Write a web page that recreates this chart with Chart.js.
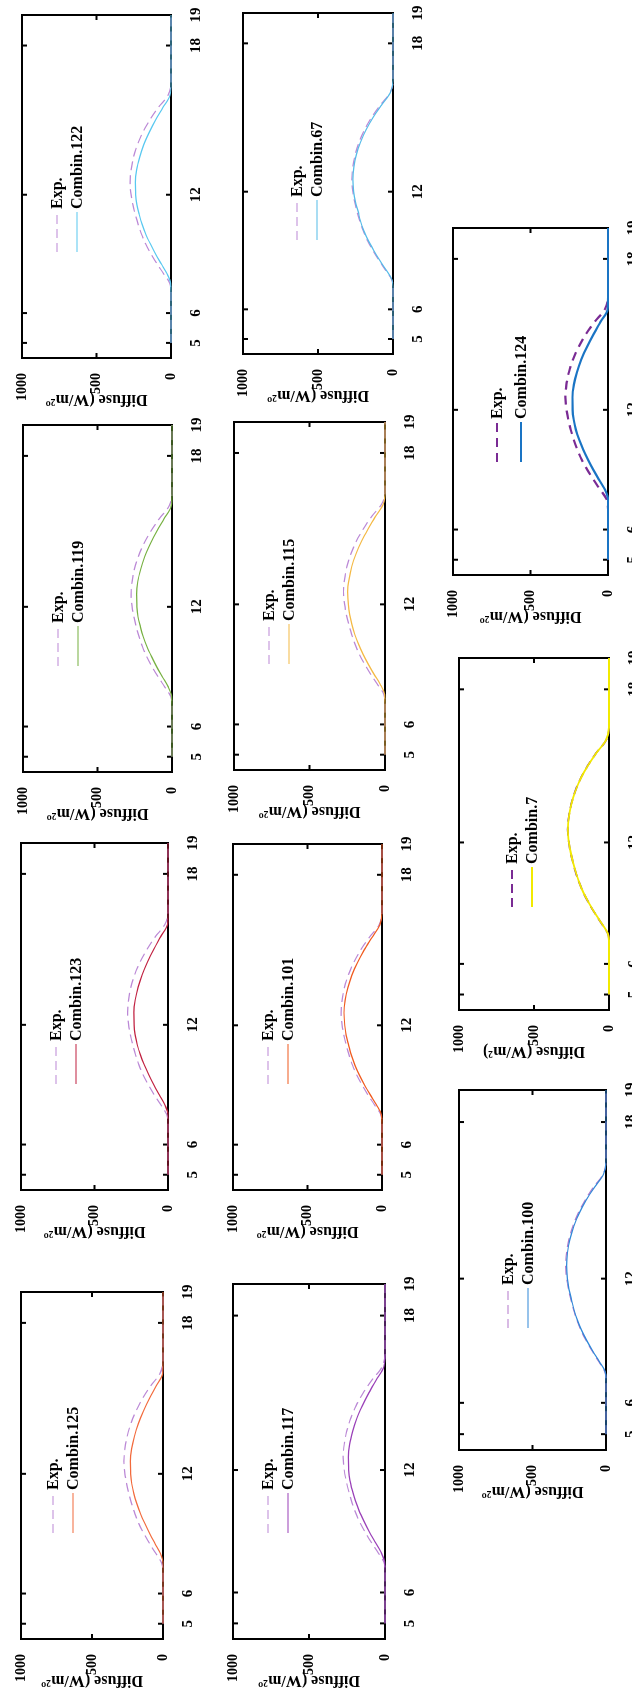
<!DOCTYPE html>
<html>
<head>
<meta charset="utf-8">
<script src="https://cdn.jsdelivr.net/npm/chart.js@4.4.1/dist/chart.umd.min.js"></script>
<style>
html, body { margin: 0; padding: 0; background: #fff; }
body { width: 632px; height: 1696px; overflow: hidden; position: relative; }
/* the figure is laid out landscape and turned a quarter counter-clockwise */
#page { position: absolute; left: 0; top: 0; width: 1696px; height: 632px;
        transform-origin: 0 0; transform: translateY(1696px) rotate(-90deg); }
#page canvas { position: absolute; }
</style>
</head>
<body>
<div id="page"></div>
<script>
// hours of the day (x) and the tick labels of the time axis
const hours = [5, 6, 7, 7.5, 8, 8.5, 9, 9.5, 10, 10.5, 11, 11.5, 12, 12.5, 13, 13.5, 14, 14.5, 15, 15.5, 16, 16.5, 17, 18, 19];
const tickHours = [5, 6, 12, 18, 19];
const tickPos = [4.4, 13.1, 47.6, 91.1, 100];   // where those labels sit on the axis (0..100)
const yTicks = [0, 500, 1000];

// diffuse irradiance, W/m2
const expValues  = [0, 0, 0, 8, 50, 94, 134, 170, 198, 221, 240, 256, 268, 275, 268, 252, 226, 190, 143, 86, 20, 0, 0, 0, 0];
const combin122  = [0, 0, 0, 2, 27, 66, 104, 138, 169, 194, 213, 229, 237, 239, 231, 211, 184, 147, 104, 55, 7, 0, 0, 0, 0];
const combin119  = [0, 0, 0, 2, 26, 65, 103, 137, 168, 193, 212, 228, 236, 238, 230, 210, 183, 146, 103, 54, 6, 0, 0, 0, 0];
const combin123  = [0, 0, 0, 0, 22, 60, 97, 131, 162, 188, 209, 224, 231, 232, 223, 203, 175, 139, 97, 50, 3, 0, 0, 0, 0];
const combin125  = [0, 0, 0, 0, 18, 56, 93, 127, 158, 184, 205, 220, 228, 230, 221, 201, 173, 137, 95, 47, 2, 0, 0, 0, 0];
const combin67   = [0, 0, 0, 7, 45, 89, 128, 164, 194, 217, 233, 251, 262, 268, 261, 244, 217, 180, 133, 77, 18, 0, 0, 0, 0];
const combin115  = [0, 0, 0, 3, 31, 72, 110, 145, 175, 200, 219, 234, 243, 247, 238, 220, 192, 156, 111, 61, 10, 0, 0, 0, 0];
const combin101  = [0, 0, 0, 4, 37, 78, 117, 152, 182, 206, 224, 241, 250, 255, 247, 229, 202, 165, 120, 67, 14, 0, 0, 0, 0];
const combin117  = [0, 0, 0, 3, 28, 67, 105, 139, 170, 195, 215, 231, 239, 241, 233, 213, 186, 149, 106, 57, 8, 0, 0, 0, 0];
const combin124  = [0, 0, 0, 0, 20, 58, 95, 129, 160, 186, 207, 221, 228, 229, 220, 200, 172, 136, 94, 48, 2, 0, 0, 0, 0];
const combin7    = [0, 0, 0, 8, 49, 93, 133, 169, 197, 220, 239, 255, 267, 274, 268, 251, 225, 189, 142, 85, 21, 0, 0, 0, 0];
const combin100  = [0, 0, 0, 6, 46, 90, 130, 166, 195, 218, 235, 252, 263, 268, 262, 246, 219, 183, 136, 79, 17, 0, 0, 0, 0];

const TITLE = 'Diffuse (W/m\u00b2\u00ba';
const SERIF = "'Liberation Serif', 'Times New Roman', serif";
const LIGHT = '#bb88d6';
const DARK = '#7a2b94';

// box = [left, top, width, height] of the plot frame in the landscape layout
const panels = [
  { name: 'Combin.122', values: combin122, color: '#58c8f0', exp: LIGHT, box: [1338, 22, 343, 149] },
  { name: 'Combin.119', values: combin119, color: '#76b041', exp: LIGHT, box: [924, 23, 347, 149] },
  { name: 'Combin.123', values: combin123, color: '#c02040', exp: LIGHT, box: [506, 21, 347, 147] },
  { name: 'Combin.125', values: combin125, color: '#f26a3c', exp: LIGHT, box: [57, 21, 347, 142], rows: [32, 52] },
  { name: 'Combin.67',  values: combin67,  color: '#55bbe8', exp: LIGHT, box: [1342, 243, 341, 150], rows: [54, 74], lx: 114 },
  { name: 'Combin.115', values: combin115, color: '#f4b944', exp: LIGHT, box: [926, 234, 348, 151] },
  { name: 'Combin.101', values: combin101, color: '#f05a1e', exp: LIGHT, box: [506, 233, 346, 149] },
  { name: 'Combin.117', values: combin117, color: '#9a40b8', exp: LIGHT, box: [57, 233, 355, 152] },
  { name: 'Combin.124', values: combin124, color: '#1a74c4', exp: DARK, box: [1121, 453, 347, 155], rows: [44, 68], lx: 113, lw: 2.2, dash: [9, 6] },
  { name: 'Combin.7',   values: combin7,   color: '#f2ea00', exp: DARK, box: [686, 459, 352, 150], rows: [53, 73], lx: 103, lw: 1.8, title: 'Diffuse (W/m\u00b2)' },
  { name: 'Combin.100', values: combin100, color: '#3088d8', exp: '#b478cc', box: [246, 459, 360, 147], rows: [49, 69], lx: 122 }
];

function hourToPos(h) {
  for (let i = 1; i < tickHours.length; i++) {
    if (h <= tickHours[i]) {
      const t = (h - tickHours[i - 1]) / (tickHours[i] - tickHours[i - 1]);
      return tickPos[i - 1] + t * (tickPos[i] - tickPos[i - 1]);
    }
  }
  return tickPos[tickPos.length - 1];
}

function toPoints(values) {
  return hours.map((h, i) => ({ x: hourToPos(h), y: values[i] }));
}

// black frame with short inward ticks on all four sides
const frame = {
  id: 'frame',
  beforeDatasetsDraw(chart) {
    const { ctx, chartArea: a, scales: { x, y } } = chart;
    ctx.save();
    ctx.strokeStyle = '#000';
    ctx.lineWidth = 2;
    ctx.strokeRect(a.left, a.top, a.right - a.left, a.bottom - a.top);
    ctx.beginPath();
    tickPos.forEach(v => {
      if (v <= 0 || v >= 100) return;
      const px = x.getPixelForValue(v);
      ctx.moveTo(px, a.bottom); ctx.lineTo(px, a.bottom - 5);
      ctx.moveTo(px, a.top); ctx.lineTo(px, a.top + 5);
    });
    yTicks.forEach(v => {
      if (v <= 0 || v >= 1000) return;
      const py = y.getPixelForValue(v);
      ctx.moveTo(a.left, py); ctx.lineTo(a.left + 5, py);
      ctx.moveTo(a.right, py); ctx.lineTo(a.right - 5, py);
    });
    ctx.stroke();
    ctx.restore();
  }
};

// legend drawn inside the frame
const panelLegend = {
  id: 'panelLegend',
  afterDraw(chart, args, opts) {
    const { ctx, chartArea: a } = chart;
    ctx.save();
    ctx.font = 'bold 16px ' + SERIF;
    ctx.textBaseline = 'middle';
    ctx.fillStyle = '#000';
    chart.data.datasets.forEach((ds, i) => {
      const yy = a.top + opts.rows[i];
      const x0 = a.left + opts.lx;
      ctx.strokeStyle = ds.borderColor;
      ctx.lineWidth = ds.borderWidth;
      ctx.setLineDash(ds.borderDash || []);
      ctx.beginPath();
      ctx.moveTo(x0, yy);
      ctx.lineTo(x0 + 40, yy);
      ctx.stroke();
      ctx.setLineDash([]);
      ctx.fillText(ds.label, x0 + 43, yy + 1);
    });
    ctx.restore();
  }
};

const page = document.getElementById('page');
const LEFT = 75, TOP = 20, RIGHT = 20, BOTTOM = 32;

panels.forEach(p => {
  const [bx, by, bw, bh] = p.box;
  const cv = document.createElement('canvas');
  cv.width = bw + LEFT + RIGHT;
  cv.height = bh + TOP + BOTTOM;
  cv.style.left = (bx - LEFT) + 'px';
  cv.style.top = (by - TOP) + 'px';
  page.appendChild(cv);

  const lw = p.lw || 1.2;
  new Chart(cv, {
    type: 'line',
    data: {
      datasets: [
        { label: 'Exp.', data: toPoints(expValues), borderColor: p.exp, borderWidth: lw,
          borderDash: p.dash || [9, 5], pointRadius: 0, cubicInterpolationMode: 'monotone', order: 1, clip: 4 },
        { label: p.name, data: toPoints(p.values), borderColor: p.color, borderWidth: lw,
          pointRadius: 0, cubicInterpolationMode: 'monotone', order: 0, clip: 4 }
      ]
    },
    options: {
      responsive: false,
      animation: false,
      devicePixelRatio: 1,
      layout: { padding: { top: TOP, right: RIGHT, left: 0, bottom: 0 } },
      plugins: {
        legend: { display: false },
        tooltip: { enabled: false },
        panelLegend: { rows: p.rows || [35, 55], lx: p.lx || 106 }
      },
      scales: {
        x: {
          type: 'linear', min: 0, max: 100,
          grid: { display: false }, border: { display: false },
          afterBuildTicks: s => { s.ticks = tickPos.map(v => ({ value: v })); },
          afterFit: s => { s.height = BOTTOM; },
          ticks: { autoSkip: false, maxRotation: 0, padding: 8, color: '#000',
                   font: { family: SERIF, size: 15, weight: 'bold' },
                   callback: (v, i) => String(tickHours[i]) }
        },
        y: {
          min: 0, max: 1000,
          grid: { display: false }, border: { display: false },
          afterBuildTicks: s => { s.ticks = yTicks.map(v => ({ value: v })); },
          afterFit: s => { s.width = LEFT; },
          ticks: { padding: 7, color: '#000', font: { family: SERIF, size: 14, weight: 'bold' },
                   callback: v => String(v) },
          title: { display: true, text: p.title || TITLE, color: '#000',
                   font: { family: SERIF, size: 16, weight: 'bold' }, padding: { top: 24, bottom: 0 } }
        }
      }
    },
    plugins: [frame, panelLegend]
  });
});
</script>
</body>
</html>
